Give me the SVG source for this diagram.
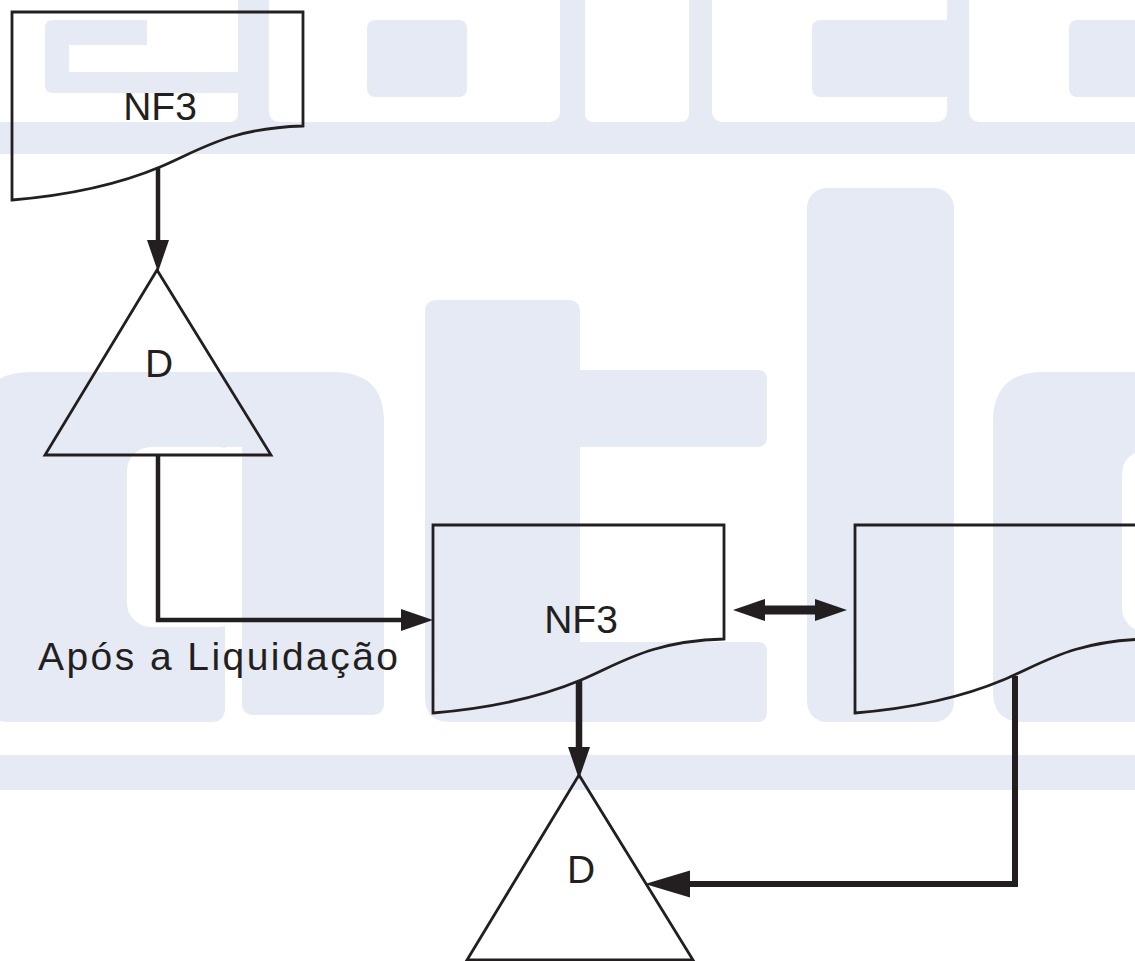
<svg xmlns="http://www.w3.org/2000/svg" width="1135" height="961" viewBox="0 0 1135 961">
  <style>
    .wm { fill: #e5eaf5; }
    .paper { fill: #ffffff; }
    .shape { fill: none; stroke: #231f20; stroke-width: 2.8; stroke-linejoin: miter; }
    .label { font-family: "Liberation Sans", Arial, sans-serif; font-size: 39px; fill: #231f20; }
    .flow { fill: none; stroke: #231f20; stroke-linejoin: miter; stroke-linecap: butt; }
    .thin { stroke-width: 4.5; }
    .thick { stroke-width: 6.5; }
  </style>
  <defs>
    <!-- document outline: flat top, wavy bottom -->
    <path id="doc-outline" d="M12,12 H303 V126 C230,128 200,150 160,167 C110,188 60,196 12,200 Z"/>
    <polygon id="tri-outline" points="157,270 45,455 271,455"/>
    <marker id="head" markerUnits="userSpaceOnUse" markerWidth="34" markerHeight="24" viewBox="0 -12 34 24" refX="0" refY="0" orient="auto-start-reverse">
      <path d="M0,-11 L32,0 L0,11 Z" fill="#231f20"/>
    </marker>
    <marker id="head-wide" markerUnits="userSpaceOnUse" markerWidth="46" markerHeight="28" viewBox="0 -14 46 28" refX="0" refY="0" orient="auto">
      <path d="M0,-13.5 L45,0 L0,13.5 Z" fill="#231f20"/>
    </marker>
  </defs>

  <!-- page -->
  <rect class="paper" x="0" y="0" width="1135" height="961"/>

  <!-- background lettering -->
  <g id="backdrop">
    <!-- upper row -->
    <rect class="wm" x="0" y="0" width="1135" height="154"/>
    <rect class="paper" x="-20" y="-20" width="258" height="142" rx="8"/>
    <rect class="paper" x="269" y="-20" width="291" height="142" rx="10"/>
    <rect class="paper" x="585" y="-20" width="104" height="142" rx="8"/>
    <rect class="paper" x="712" y="-20" width="235" height="142" rx="10"/>
    <rect class="paper" x="969" y="-20" width="190" height="142" rx="10"/>
    <path class="wm" d="M53,20 H147 V45 H69 V72 H238 V93 H53 Q45,93 45,85 V28 Q45,20 53,20 Z"/>
    <rect class="wm" x="367" y="20" width="100" height="77" rx="8"/>
    <rect class="wm" x="812" y="20" width="145" height="77" rx="8"/>
    <rect class="wm" x="1069" y="20" width="90" height="77" rx="8"/>

    <!-- lower row -->
    <path class="wm" d="M30,372 H334 Q384,372 384,422 V703 Q384,715 372,715 H254 Q242,715 242,703 V447 H225 V708 Q225,722 211,722 H10 Q-20,722 -20,692 V422 Q-20,372 30,372 Z"/>
    <rect class="paper" x="127" y="447" width="115" height="180" rx="24"/>
    <path class="wm" d="M437,300 H568 Q580,300 580,312 V370 H757 Q767,370 767,380 V437 Q767,447 757,447 H580 V642 H757 Q767,642 767,652 V712 Q767,722 757,722 H450 Q425,722 425,697 V312 Q425,300 437,300 Z"/>
    <rect class="wm" x="807" y="188" width="147" height="534" rx="20"/>
    <path class="wm" d="M1043,372 H1160 V722 H1023 Q993,722 993,692 V422 Q993,372 1043,372 Z"/>
    <rect class="paper" x="1122" y="450" width="80" height="182" rx="24"/>
    <rect class="wm" x="0" y="755" width="1135" height="35"/>
  </g>

  <!-- document: NF3 (first copy) -->
  <g id="doc-nf3-1">
    <use href="#doc-outline" class="shape"/>
    <text class="label" x="160" y="120" text-anchor="middle">NF3</text>
  </g>

  <!-- file: D (upper) -->
  <g id="file-d-1">
    <use href="#tri-outline" class="shape"/>
    <text class="label" x="159" y="377" text-anchor="middle">D</text>
  </g>

  <!-- document: NF3 (after settlement) -->
  <g id="doc-nf3-2">
    <use href="#doc-outline" class="shape" transform="translate(421,513)"/>
    <text class="label" x="581" y="633" text-anchor="middle">NF3</text>
  </g>

  <!-- document: unlabeled, cut by the page edge -->
  <g id="doc-blank">
    <use href="#doc-outline" class="shape" transform="translate(843,513)"/>
  </g>

  <!-- file: D (lower) -->
  <g id="file-d-2">
    <use href="#tri-outline" class="shape" transform="translate(422,505)"/>
    <text class="label" x="581" y="883" text-anchor="middle">D</text>
  </g>

  <!-- connectors -->
  <g id="connectors">
    <path class="flow thin" d="M158,168 V240" marker-end="url(#head)"/>
    <path class="flow thin" d="M158,455 V620 H401" marker-end="url(#head)"/>
    <path class="flow thick" d="M579,681 V747" marker-end="url(#head)"/>
    <path class="flow" stroke-width="9" d="M765,610 H815" marker-start="url(#head)" marker-end="url(#head)"/>
    <path class="flow" stroke-width="6" d="M1015,676 V884 H690" marker-end="url(#head-wide)"/>
    <text class="label" x="38" y="670" font-size="40" textLength="360" lengthAdjust="spacing">Após a Liquidação</text>
  </g>
</svg>
